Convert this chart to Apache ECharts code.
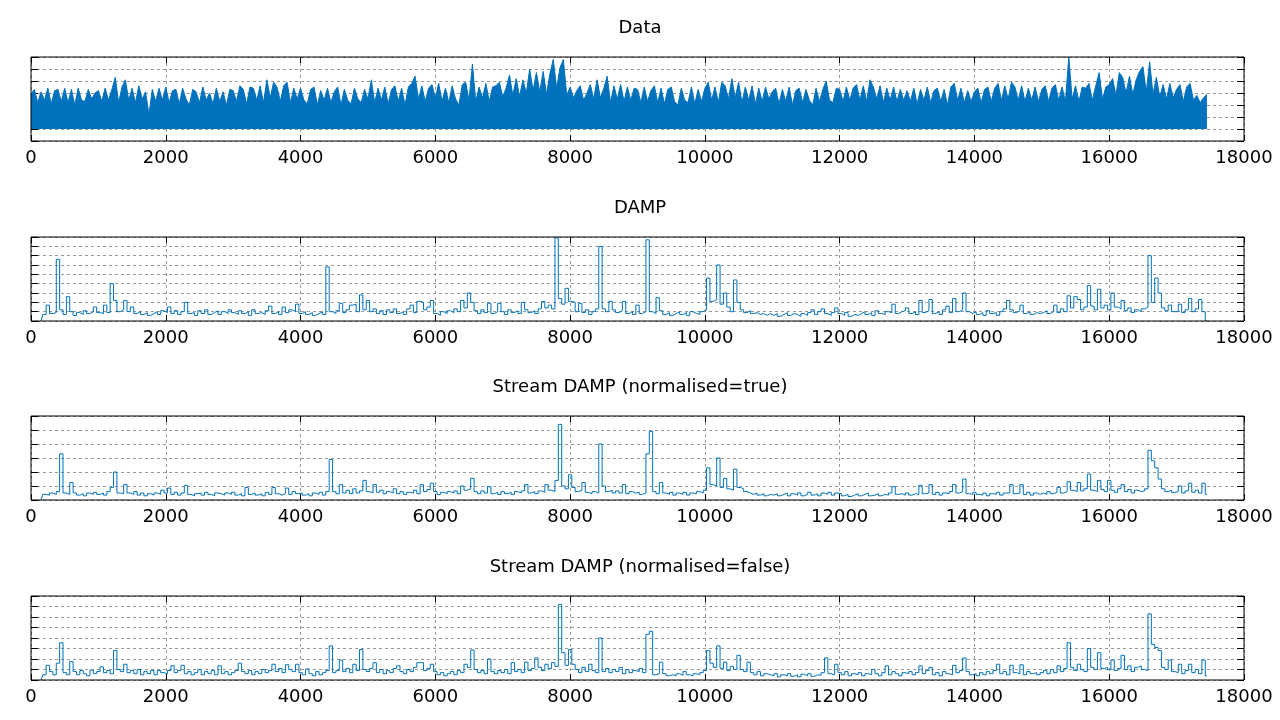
<!DOCTYPE html>
<html><head><meta charset="utf-8">
<script src="https://cdn.jsdelivr.net/npm/echarts@6/dist/echarts.min.js"></script>
<style>html,body{margin:0;padding:0;background:#fff}#c{width:1280px;height:720px}</style>
</head><body><div id="c"></div>
<script>
// ---- data (one sample every 50 index units) ----
const panelTitles = ['Data', 'DAMP', 'Stream DAMP (normalised=true)', 'Stream DAMP (normalised=false)'];
const sampleStep = 50;
const dataStart = 0;      // first index of the Data series
const dampStart = 150;    // first index of the three DAMP series

const dataValues = [
2.9,3.3,2.2,3.1,2.4,3.4,2.1,3.2,3.3,2.3,3.4,2.2,3.3,2.0,3.4,2.4,2.3,3.3,2.5,3.0,
3.2,2.3,3.4,2.4,3.3,4.3,2.2,3.5,4.1,2.4,3.4,2.2,3.6,2.5,3.1,1.2,3.3,2.3,3.4,2.4,
3.5,2.2,3.2,3.3,2.1,3.4,2.5,2.0,3.3,3.1,2.2,3.5,2.4,3.0,2.1,3.4,2.3,3.1,2.0,3.3,
3.2,2.3,3.6,3.3,2.1,3.5,3.4,2.4,3.6,2.2,4.1,2.6,3.9,3.5,2.3,3.6,3.9,2.2,3.4,2.5,
3.4,2.4,2.1,3.3,3.5,2.0,3.2,2.4,3.4,2.2,3.1,3.5,2.0,3.3,2.4,2.1,3.4,2.5,2.2,3.3,
2.5,4.1,2.2,3.4,2.4,3.5,2.1,3.3,3.6,2.3,3.4,2.0,3.5,3.8,4.4,2.5,3.6,2.3,3.4,3.7,
2.6,3.8,2.3,3.4,2.2,3.6,2.5,2.0,3.7,3.9,2.4,5.4,2.3,3.5,2.6,3.8,2.3,3.5,3.6,3.9,
2.7,3.4,4.5,2.8,4.2,2.7,4.1,3.0,5.0,3.2,4.7,3.1,4.8,2.9,4.6,5.8,3.4,5.1,5.8,2.8,
3.5,2.6,3.2,3.6,2.4,3.0,3.7,2.5,4.1,2.6,3.4,4.4,2.2,3.6,2.5,3.7,2.3,3.5,2.4,3.4,
3.3,2.2,3.5,2.3,3.2,3.6,2.2,3.4,2.1,3.3,3.5,2.3,2.0,3.4,2.4,2.2,3.5,2.1,3.3,2.3,
3.4,3.9,2.4,3.5,2.2,3.9,3.6,2.5,4.2,2.6,3.9,2.2,3.5,2.4,3.6,2.1,3.4,2.3,3.5,2.5,
3.1,3.4,2.1,3.3,2.3,3.5,2.0,3.2,3.4,2.2,3.3,2.4,2.0,3.4,2.3,3.3,4.0,2.4,2.2,3.4,
3.3,2.3,3.5,2.4,3.4,3.7,2.4,3.6,2.3,4.1,3.5,2.5,3.6,2.2,3.4,2.4,3.5,2.3,3.3,2.4,
3.2,2.3,3.4,2.1,3.3,2.4,3.5,2.2,3.2,3.4,2.3,3.3,2.0,3.5,3.8,2.4,3.4,2.2,3.2,2.3,
3.1,3.4,2.2,3.3,3.5,2.3,3.4,3.8,2.4,3.6,2.5,3.9,3.5,2.4,3.6,2.3,3.4,2.4,3.5,2.3,
3.3,3.6,2.3,3.4,3.7,2.4,3.5,2.3,6.0,2.5,3.6,2.3,3.5,3.4,3.8,2.4,3.6,4.7,2.5,3.5,
3.7,4.2,2.8,4.7,4.3,3.0,4.4,2.9,4.1,4.8,5.2,3.1,5.6,2.9,4.3,2.7,3.7,2.5,3.8,2.6,
3.3,3.7,2.3,3.5,3.8,2.4,2.8,2.2,2.6,2.9
];

const dampValues = [
0,0.7,1.7,0.8,0.9,6.6,1.2,0.7,2.6,1.0,0.6,0.9,0.7,1.1,0.8,1.0,1.5,
0.9,0.8,1.7,0.9,4.0,2.2,1.0,1.2,2.2,1.0,1.5,0.8,1.0,0.7,0.9,0.6,0.8,1.0,0.7,1.1,
0.9,1.5,0.8,1.1,0.7,1.0,2.0,0.8,0.9,0.6,1.1,0.8,1.2,0.7,0.9,1.1,0.7,1.0,0.8,1.2,
0.9,0.7,1.1,0.8,1.0,0.6,1.2,0.8,0.9,0.7,1.1,1.6,0.8,1.0,0.7,1.5,0.9,1.2,1.0,1.8,
0.8,1.0,0.7,0.9,0.6,0.8,1.0,0.7,5.8,1.0,0.8,1.1,1.9,0.9,1.2,1.7,1.8,1.0,2.8,1.2,
2.2,1.0,1.3,0.8,1.1,0.7,1.2,0.9,1.3,0.8,1.0,0.7,1.3,1.7,0.9,2.1,2.0,1.2,1.5,2.2,
0.8,0.6,1.0,0.8,1.1,0.9,1.3,1.0,2.2,1.4,3.0,2.0,1.1,0.8,1.2,0.9,1.9,0.8,1.0,1.9,
1.0,0.7,1.2,0.9,1.1,0.8,2.0,1.2,0.9,1.1,0.8,1.3,2.1,1.4,1.7,1.3,8.9,2.4,1.8,3.5,
2.1,2.0,1.0,1.9,0.9,1.2,0.7,1.0,1.3,8.0,1.3,1.0,2.1,1.2,0.9,1.1,2.1,0.8,1.0,0.7,
1.7,0.8,1.0,8.7,1.0,0.8,2.5,1.1,0.7,0.9,0.6,0.8,1.0,0.7,0.9,0.6,1.0,0.8,0.7,1.0,
1.2,4.6,2.1,2.3,6.0,1.8,3.0,1.5,1.0,4.4,2.0,1.2,0.9,1.1,0.8,0.9,0.7,0.8,0.6,0.8,
0.6,0.8,0.5,0.7,0.9,0.6,0.8,0.7,0.5,0.8,0.6,0.9,1.2,0.7,1.0,1.3,0.8,0.6,0.9,1.4,
0.8,0.6,0.9,0.5,0.7,0.6,0.8,1.0,0.7,0.9,0.6,1.1,0.8,0.7,1.0,0.9,1.8,0.8,1.0,1.1,
1.4,0.8,1.0,0.7,2.2,0.9,1.1,2.3,0.8,1.0,0.7,1.2,1.6,0.9,2.4,1.0,1.2,3.0,1.0,0.8,
1.0,0.7,0.9,0.6,1.1,0.8,0.9,0.6,1.0,1.3,2.2,1.2,0.9,1.1,1.7,0.8,1.0,0.7,0.9,0.8,
0.9,1.1,0.8,1.0,1.7,0.9,1.3,1.0,2.7,1.4,2.6,2.3,1.2,1.5,3.8,1.6,1.2,3.4,1.4,1.7,
1.2,3.0,1.5,1.3,2.2,1.1,1.4,0.9,1.2,1.0,1.3,1.5,7.0,2.0,4.6,3.0,1.4,1.1,1.7,1.0,
1.0,1.8,0.9,1.2,2.4,1.0,1.3,2.3,1.0,0
];

const streamTrueValues = [
0,0.4,0.35,0.5,0.4,0.6,3.3,0.5,0.4,1.25,0.5,0.35,0.45,0.3,0.5,0.4,0.55,
0.4,0.5,0.35,0.6,0.9,2.0,0.5,0.45,1.1,0.5,0.4,0.6,0.35,0.5,0.3,0.45,0.35,0.5,0.4,0.7,
0.5,0.85,0.4,0.55,0.35,0.5,1.05,0.4,0.3,0.45,0.5,0.35,0.55,0.4,0.3,0.5,0.45,0.35,0.5,0.4,
0.55,0.35,0.45,0.3,0.9,0.4,0.5,0.35,0.45,0.3,0.55,0.4,0.9,0.45,0.35,0.45,0.85,0.4,0.6,0.45,
0.5,0.35,0.45,0.3,0.5,0.4,0.55,0.35,0.6,2.9,0.6,0.45,1.1,0.5,0.7,0.45,0.8,0.5,0.65,1.4,
0.6,0.5,1.1,0.55,0.7,0.45,0.6,0.5,0.8,0.45,0.6,0.4,0.55,0.5,0.7,0.45,1.1,0.6,0.75,1.2,
0.6,0.4,0.55,0.45,0.6,0.5,0.65,0.45,1.0,0.7,0.8,1.55,0.6,0.45,0.65,0.5,0.95,0.45,0.55,0.4,
0.6,0.45,0.55,0.4,0.6,0.5,0.65,1.1,0.5,0.6,0.45,0.65,0.55,1.1,0.7,0.6,1.4,5.4,1.0,0.8,
1.8,0.9,0.6,0.7,1.25,0.55,0.45,0.6,0.5,4.0,1.0,0.6,0.7,0.5,0.65,0.5,1.1,0.45,0.6,0.5,
0.55,0.4,0.5,3.3,4.9,0.6,0.45,1.25,0.5,0.4,0.55,0.35,0.5,0.4,0.55,0.35,0.5,0.45,0.6,0.5,
0.7,2.3,1.1,1.0,3.0,0.9,1.55,0.8,0.7,2.2,0.9,0.8,0.6,0.5,0.4,0.5,0.35,0.45,0.3,0.4,
0.35,0.45,0.3,0.4,0.5,0.3,0.45,0.35,0.5,0.3,0.4,0.55,0.35,0.45,0.3,0.5,0.4,0.55,0.35,0.5,
0.45,0.3,0.4,0.25,0.35,0.45,0.3,0.4,0.5,0.3,0.35,0.45,0.3,0.4,0.35,0.5,0.95,0.4,0.45,0.35,
0.5,0.35,0.45,0.4,1.05,0.45,0.5,1.1,0.4,0.55,0.35,0.5,0.45,0.6,1.1,0.5,0.6,1.5,0.45,0.4,
0.55,0.4,0.35,0.5,0.3,0.45,0.4,0.55,0.35,0.5,0.5,1.1,0.45,0.5,1.1,0.4,0.55,0.35,0.5,0.4,
0.5,0.4,0.6,0.45,0.55,0.9,0.5,0.6,1.3,0.7,0.6,1.25,0.65,0.8,1.85,0.7,0.6,1.4,0.75,0.6,
1.4,0.7,0.55,0.8,1.1,0.6,0.75,0.5,0.7,0.6,0.65,0.8,3.55,2.8,2.3,1.5,0.8,0.6,0.7,0.55,
0.6,1.0,0.5,0.65,1.2,0.55,0.7,0.5,1.2,0.4
];

const streamFalseValues = [
0,0.5,1.4,0.8,0.5,1.6,3.55,0.7,0.5,1.75,0.8,0.5,0.9,0.6,0.4,0.95,0.6,
0.8,1.25,0.7,0.9,0.6,2.8,1.0,0.8,1.5,0.7,0.9,0.6,1.0,0.5,0.8,0.6,0.9,0.5,0.9,0.7,
0.6,0.9,1.35,0.7,0.9,1.4,0.6,0.8,0.5,0.7,1.0,0.5,0.8,0.6,0.9,0.5,1.35,0.6,0.8,0.5,
0.7,0.9,1.6,0.8,0.6,0.9,0.5,0.8,0.6,1.0,0.7,0.9,1.5,0.8,1.1,0.7,1.45,1.0,0.8,1.5,
0.7,0.5,1.05,0.6,0.4,0.8,0.5,0.7,0.9,3.25,0.7,0.9,1.9,0.8,1.1,0.7,1.5,0.9,2.9,1.0,
0.8,1.1,1.65,0.7,1.0,0.6,0.9,0.7,1.1,1.35,0.8,0.6,1.0,0.8,1.2,1.65,1.65,0.9,1.1,1.5,
0.8,0.5,0.7,0.4,0.6,0.8,0.5,0.9,0.7,1.5,1.2,2.85,1.0,0.7,0.9,0.6,2.0,0.8,0.6,0.9,
0.7,1.0,0.6,1.65,0.8,1.0,0.7,1.7,0.9,1.1,2.1,1.2,0.9,1.5,1.1,1.65,1.3,7.2,2.6,1.4,
2.9,1.5,1.0,0.7,1.2,0.8,1.5,0.9,0.7,4.0,0.8,1.1,0.7,1.0,0.8,1.2,0.6,1.0,0.7,0.9,
0.8,1.1,0.7,4.35,4.65,0.5,0.6,1.7,0.6,0.4,0.5,0.4,0.6,0.45,0.8,0.5,0.4,0.6,0.5,0.7,
0.9,2.8,1.6,1.2,3.25,1.1,1.7,0.9,1.3,1.0,2.35,1.0,0.8,1.7,0.7,0.5,0.8,0.4,0.6,0.5,
0.4,0.6,0.3,0.5,0.4,0.6,0.35,0.5,0.3,0.55,0.4,0.6,0.35,0.5,0.45,0.7,2.1,0.6,0.5,1.5,
0.7,0.5,0.8,0.4,0.6,0.5,0.7,0.4,0.6,0.5,1.0,0.6,0.4,0.7,1.35,0.5,0.8,0.6,0.4,0.7,
0.6,0.8,0.5,0.7,1.35,0.6,0.9,1.2,0.5,0.7,0.4,0.8,0.6,0.5,1.4,0.7,0.9,2.1,0.8,0.5,
0.6,0.4,0.7,0.5,0.8,0.6,0.9,1.5,0.6,0.8,0.5,1.4,0.7,0.6,1.45,0.5,0.8,0.6,0.7,0.5,
0.7,0.9,0.6,1.0,0.7,1.35,0.8,1.1,3.55,1.2,0.9,1.5,1.0,0.8,3.0,1.2,1.0,2.6,1.1,1.2,
1.0,1.9,0.9,1.1,2.35,1.0,1.35,0.8,1.2,1.35,1.0,0.9,6.3,3.4,3.1,2.8,1.2,1.0,1.9,0.8,
0.7,1.5,0.6,0.9,1.5,0.7,1.0,0.6,1.9,0.4
];

// ---- chart ----
function toPairs(start, values) {
  return values.map((v, i) => [start + i * sampleStep, v]);
}
const seriesData = [
  toPairs(dataStart, dataValues),
  toPairs(dampStart, dampValues),
  toPairs(dampStart, streamTrueValues),
  toPairs(dampStart, streamFalseValues)
];
const yMin = [-1, 0, 0, 0];
const yMax = [6, 9, 6, 8];

const FONT = 'DejaVu Sans';
const BLUE = '#0072bd';
const tops = [57, 237, 416, 596];
const H = 84;
const dash = { color: '#9a9a9a', width: 1, type: [3, 3] };

const grid = [], title = [], xAxis = [], yAxis = [], series = [];
tops.forEach((t, i) => {
  grid.push({ left: 31, right: 36, top: t, height: H, show: true, z: 10,
              borderColor: '#000', borderWidth: 1, backgroundColor: 'transparent' });
  title.push({ text: panelTitles[i], left: 'center', top: t - 38, padding: 0,
               textStyle: { fontFamily: FONT, fontSize: 18, fontWeight: 'normal', color: '#000' } });
  xAxis.push({ gridIndex: i, type: 'value', min: 0, max: 18000, interval: 2000, position: 'bottom',
               axisLine: { show: false, onZero: false },
               axisTick: { show: true, inside: true, length: 6, lineStyle: { color: '#000' } },
               axisLabel: { show: true, fontFamily: FONT, fontSize: 18, color: '#000', margin: 8,
                            formatter: v => String(v) },
               splitLine: { show: true, lineStyle: dash } });
  xAxis.push({ gridIndex: i, type: 'value', min: 0, max: 18000, interval: 2000, position: 'top',
               axisLine: { show: false, onZero: false },
               axisTick: { show: true, inside: true, length: 6, lineStyle: { color: '#000' } },
               axisLabel: { show: false }, splitLine: { show: false } });
  yAxis.push({ gridIndex: i, type: 'value', min: yMin[i], max: yMax[i], interval: 1, position: 'left',
               axisLine: { show: false, onZero: false },
               axisTick: { show: true, inside: true, length: 7, lineStyle: { color: '#000' } },
               axisLabel: { show: false },
               splitLine: { show: true, lineStyle: dash } });
  yAxis.push({ gridIndex: i, type: 'value', min: yMin[i], max: yMax[i], interval: 1, position: 'right',
               axisLine: { show: false, onZero: false },
               axisTick: { show: true, inside: true, length: 7, lineStyle: { color: '#000' } },
               axisLabel: { show: false }, splitLine: { show: false } });
  const s = { type: 'line', xAxisIndex: 2 * i, yAxisIndex: 2 * i, data: seriesData[i],
              showSymbol: false, symbol: 'none', z: 5,
              lineStyle: { color: BLUE, width: 1 }, itemStyle: { color: BLUE } };
  if (i === 0) {
    s.areaStyle = { color: BLUE, opacity: 1 };
  } else {
    s.step = 'middle';
  }
  series.push(s);
});

const chart = echarts.init(document.getElementById('c'));
chart.setOption({ animation: false, backgroundColor: '#fff', title, grid, xAxis, yAxis, series });
</script>
</body></html>
